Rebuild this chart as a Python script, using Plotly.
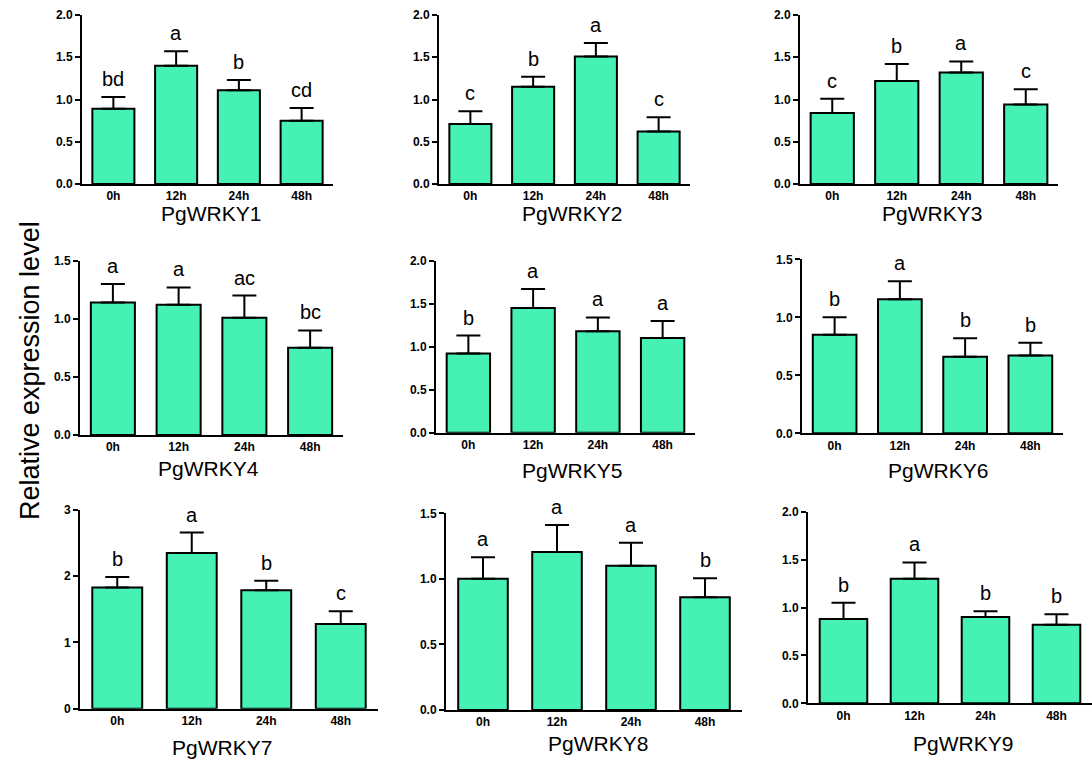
import plotly.graph_objects as go
from plotly.subplots import make_subplots

# ---- data ----
times = ["0h", "12h", "24h", "48h"]
genes = ["PgWRKY1", "PgWRKY2", "PgWRKY3", "PgWRKY4", "PgWRKY5",
         "PgWRKY6", "PgWRKY7", "PgWRKY8", "PgWRKY9"]

wrky1_mean = [0.89, 1.40, 1.11, 0.75]
wrky1_err = [0.14, 0.17, 0.12, 0.15]
wrky1_sig = ["bd", "a", "b", "cd"]

wrky2_mean = [0.71, 1.15, 1.51, 0.62]
wrky2_err = [0.15, 0.12, 0.16, 0.17]
wrky2_sig = ["c", "b", "a", "c"]

wrky3_mean = [0.84, 1.22, 1.32, 0.94]
wrky3_err = [0.17, 0.20, 0.13, 0.18]
wrky3_sig = ["c", "b", "a", "c"]

wrky4_mean = [1.14, 1.12, 1.01, 0.75]
wrky4_err = [0.16, 0.15, 0.19, 0.15]
wrky4_sig = ["a", "a", "ac", "bc"]

wrky5_mean = [0.92, 1.45, 1.18, 1.10]
wrky5_err = [0.21, 0.22, 0.16, 0.20]
wrky5_sig = ["b", "a", "a", "a"]

wrky6_mean = [0.85, 1.155, 0.66, 0.67]
wrky6_err = [0.15, 0.155, 0.16, 0.11]
wrky6_sig = ["b", "a", "b", "b"]

wrky7_mean = [1.83, 2.35, 1.79, 1.28]
wrky7_err = [0.16, 0.31, 0.14, 0.19]
wrky7_sig = ["b", "a", "b", "c"]

wrky8_mean = [1.00, 1.205, 1.10, 0.86]
wrky8_err = [0.165, 0.205, 0.176, 0.145]
wrky8_sig = ["a", "a", "a", "b"]

wrky9_mean = [0.88, 1.30, 0.90, 0.82]
wrky9_err = [0.17, 0.17, 0.06, 0.11]
wrky9_sig = ["b", "a", "b", "b"]

y_max = [2.0, 2.0, 2.0, 1.5, 2.0, 1.5, 3.0, 1.5, 2.0]
y_step = [0.5, 0.5, 0.5, 0.5, 0.5, 0.5, 1.0, 0.5, 0.5]

means = [wrky1_mean, wrky2_mean, wrky3_mean, wrky4_mean, wrky5_mean,
         wrky6_mean, wrky7_mean, wrky8_mean, wrky9_mean]
errs = [wrky1_err, wrky2_err, wrky3_err, wrky4_err, wrky5_err,
        wrky6_err, wrky7_err, wrky8_err, wrky9_err]
sigs = [wrky1_sig, wrky2_sig, wrky3_sig, wrky4_sig, wrky5_sig,
        wrky6_sig, wrky7_sig, wrky8_sig, wrky9_sig]

# ---- layout (pixel boxes: left, right, top, bottom) ----
W, H = 1092, 761
boxes = [
    (82, 333, 15, 184), (439, 690, 15, 184), (800, 1058, 15, 184),
    (80, 343, 260.7, 435), (436, 695, 260.7, 432.7), (802, 1063, 259.3, 433.3),
    (80, 378, 510, 708.7), (446, 742, 513.3, 710), (808, 1092, 511.7, 703.3),
]
title_pos = [(211, 213), (572, 213), (932, 213),
             (208, 468), (572, 470), (938, 470),
             (222, 747), (598, 743), (963, 743)]

FONT = "Arial, Liberation Sans, sans-serif"
BAR_COLOR = "#45F2B3"

fig = make_subplots(rows=3, cols=3)
annotations = []
for i in range(9):
    r, c = i // 3 + 1, i % 3 + 1
    fig.add_trace(go.Bar(
        x=times, y=means[i], width=0.67,
        marker=dict(color=BAR_COLOR, line=dict(color="black", width=2)),
        error_y=dict(type="data", array=errs[i], arrayminus=[0] * 4,
                     symmetric=False, color="black", thickness=2, width=12),
        showlegend=False, hoverinfo="skip",
    ), row=r, col=c)
    n = "" if i == 0 else str(i + 1)
    l, rr, t, b = boxes[i]
    fig.layout[f"xaxis{n}"].update(
        domain=[l / W, rr / W], range=[-0.5, 3.5], showline=True,
        linecolor="black", linewidth=2, ticks="", showgrid=False,
        zeroline=False, automargin=False,
        tickfont=dict(family=FONT, size=12, color="black", weight="bold"),
        fixedrange=True,
    )
    fig.layout[f"yaxis{n}"].update(
        domain=[1 - b / H, 1 - t / H], range=[0, y_max[i]], dtick=y_step[i], tick0=0,
        tickformat=".1f" if y_step[i] < 1 else "d",
        showline=True, linecolor="black", linewidth=2, ticks="outside",
        ticklen=5, tickwidth=2, tickcolor="black", showgrid=False, zeroline=False,
        automargin=False,
        tickfont=dict(family=FONT, size=12, color="black", weight="bold"),
        fixedrange=True,
    )
    for j in range(4):
        annotations.append(dict(
            x=times[j], y=means[i][j] + errs[i][j], xref=f"x{n}", yref=f"y{n}",
            text=sigs[i][j], showarrow=False, yanchor="bottom", yshift=5,
            font=dict(family=FONT, size=20, color="black"),
        ))
    tx, ty = title_pos[i]
    annotations.append(dict(
        x=tx / W, y=1 - ty / H, xref="paper", yref="paper", text=genes[i],
        showarrow=False, xanchor="center", yanchor="middle",
        font=dict(family=FONT, size=21, color="black"),
    ))

annotations.append(dict(
    x=30 / W, y=1 - 371 / H, xref="paper", yref="paper",
    text="Relative expression level", textangle=-90, showarrow=False,
    xanchor="center", yanchor="middle",
    font=dict(family=FONT, size=27, color="black"),
))

fig.update_layout(
    width=W, height=H, margin=dict(l=0, r=0, t=0, b=0, autoexpand=False),
    paper_bgcolor="white", plot_bgcolor="white",
    annotations=annotations, bargap=0.33,
)

fig.write_html(
    "out.html",
    config={"displayModeBar": False, "staticPlot": True},
    post_script="document.body.style.margin='0px';document.body.style.overflow='hidden';",
)
